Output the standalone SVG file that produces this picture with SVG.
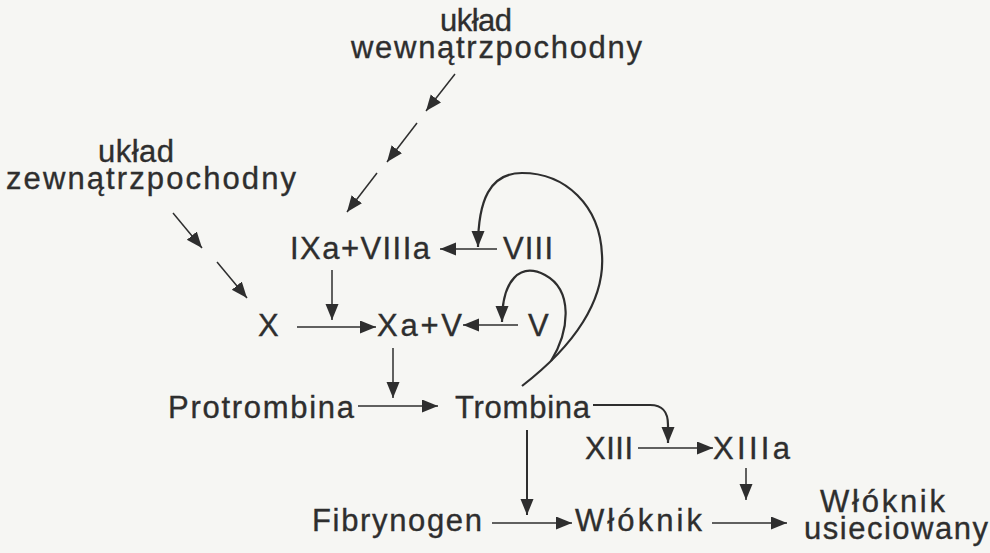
<svg xmlns="http://www.w3.org/2000/svg" width="990" height="553" viewBox="0 0 990 553">
  <style>
    .lbl { font-family: "Liberation Sans", Arial, sans-serif; font-size: 31px; fill: #2e2e2e; stroke: #2e2e2e; stroke-width: 0.35; }
    .edge { fill: none; stroke: #2e2e2e; stroke-width: 1.5; marker-end: url(#head); }
    .curve { fill: none; stroke: #2e2e2e; stroke-width: 2.2; marker-end: url(#head); }
    .thick { stroke-width: 2; }
  </style>
  <defs>
    <marker id="head" markerUnits="userSpaceOnUse" markerWidth="18" markerHeight="14" refX="16" refY="6.5" orient="auto">
      <path d="M0,0 L16,6.5 L0,13 z" fill="#2e2e2e"/>
    </marker>
  </defs>
  <rect width="990" height="553" fill="#f6f6f3"/>

  <!-- two-line labels kept as one text each -->
  <g id="intrinsic">
    <text class="lbl"><tspan x="440" y="31" textLength="72">układ</tspan><tspan x="351" y="58" textLength="291">wewnątrzpochodny</tspan></text>
  </g>
  <g id="extrinsic">
    <text class="lbl"><tspan x="98" y="162" textLength="76">układ</tspan><tspan x="6" y="189" textLength="290">zewnątrzpochodny</tspan></text>
  </g>
  <g id="ixa-viiia"><text class="lbl" x="290" y="259" textLength="140">IXa+VIIIa</text></g>
  <g id="viii"><text class="lbl" x="503" y="259" textLength="50">VIII</text></g>
  <g id="x"><text class="lbl" x="258" y="336" textLength="19">X</text></g>
  <g id="xa-v"><text class="lbl" x="377" y="336" textLength="85">Xa+V</text></g>
  <g id="v"><text class="lbl" x="528" y="336" textLength="19">V</text></g>
  <g id="protrombina"><text class="lbl" x="168" y="418" textLength="186">Protrombina</text></g>
  <g id="trombina"><text class="lbl" x="455" y="418" textLength="135">Trombina</text></g>
  <g id="xiii"><text class="lbl" x="585" y="459" textLength="48">XIII</text></g>
  <g id="xiiia"><text class="lbl" x="713" y="459" textLength="77">XIIIa</text></g>
  <g id="fibrynogen"><text class="lbl" x="312" y="531" textLength="170">Fibrynogen</text></g>
  <g id="wloknik"><text class="lbl" x="575" y="531" textLength="127">Włóknik</text></g>
  <g id="wloknik-usieciowany">
    <text class="lbl"><tspan x="820" y="512" textLength="125">Włóknik</tspan><tspan x="804" y="539" textLength="184">usieciowany</tspan></text>
  </g>

  <g id="connectors">
    <!-- intrinsic pathway, split into three steps -->
    <path class="edge" d="M455,74 L426,111"/>
    <path class="edge" d="M417,123 L387,162"/>
    <path class="edge" d="M377,173 L347,212"/>
    <!-- extrinsic pathway -->
    <path class="edge" d="M173,213 L202,248"/>
    <path class="edge" d="M217,262 L247,298"/>
    <!-- factor activation arrows -->
    <path class="edge" d="M497,249 L440,249"/>
    <path class="edge" d="M332,270 L332,320"/>
    <path class="edge" d="M297,327 L376,327"/>
    <path class="edge" d="M518,325 L463,325"/>
    <path class="edge" d="M393,348 L393,398"/>
    <path class="edge" d="M358,406 L438,406"/>
    <path class="edge" d="M638,448 L713,448"/>
    <path class="edge thick" d="M527,430 L527,515"/>
    <path class="edge" d="M492,523 L572,523"/>
    <path class="edge" d="M746,468 L746,500"/>
    <path class="edge" d="M712,523 L787,523"/>
    <!-- thrombin feedback loops -->
    <path class="curve" d="M522,386 C575,345 605,300 602,255 C600,205 565,173 522,173 C490,173 478,200 478,247"/>
    <path class="curve" d="M551,361 C570,330 573,290 545,275 C520,262 502,280 502,322"/>
    <path class="curve" d="M593,405 L650,405 C663,405 668,412 668,425 L668,443"/>
  </g>
</svg>
